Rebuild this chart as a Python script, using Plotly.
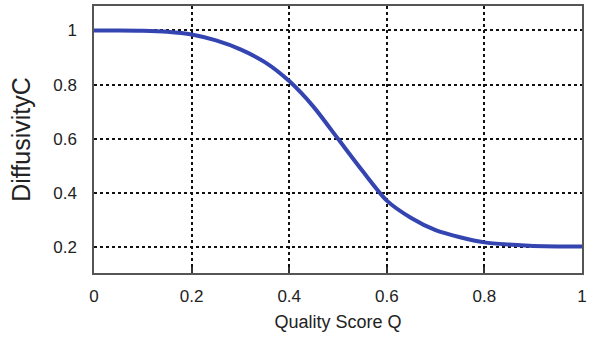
import plotly.graph_objects as go

quality_q = [0, 0.05, 0.1, 0.15, 0.2, 0.25, 0.3, 0.35, 0.4, 0.45, 0.5,
             0.55, 0.6, 0.65, 0.7, 0.75, 0.8, 0.85, 0.9, 0.95, 1.0]
diffusivity_c = [1.0, 1.0, 0.999, 0.995, 0.985, 0.963, 0.93, 0.883, 0.813, 0.718, 0.6,
                 0.482, 0.372, 0.308, 0.263, 0.237, 0.218, 0.21, 0.205, 0.203, 0.203]
x_ticks = [0, 0.2, 0.4, 0.6, 0.8, 1]
x_tick_labels = ["0", "0.2", "0.4", "0.6", "0.8", "1"]
y_ticks = [0.2, 0.4, 0.6, 0.8, 1]
y_tick_labels = ["0.2", "0.4", "0.6", "0.8", "1"]

font_family = "Liberation Sans, Arial, sans-serif"

fig = go.Figure()
fig.add_trace(go.Scatter(
    x=quality_q, y=diffusivity_c, mode="lines",
    line=dict(color="#3444b0", width=4, shape="spline", smoothing=0.7),
    showlegend=False,
))

fig.update_layout(
    width=591, height=341,
    margin=dict(l=94, r=7, t=4, b=68),
    paper_bgcolor="white", plot_bgcolor="white",
    font=dict(family=font_family, size=17, color="#222"),
)
fig.update_xaxes(
    range=[0, 1], tickvals=x_ticks, ticktext=x_tick_labels,
    showgrid=True, gridcolor="#111", griddash="3px,3px", gridwidth=1.5,
    showline=True, linecolor="#555", linewidth=1.5, mirror=True,
    ticks="inside", ticklen=6, tickcolor="#333", tickwidth=1.5,
    ticklabelstandoff=7, ticklabeloverflow="allow",
    zeroline=False,
    title=dict(text="Quality Score Q", font=dict(size=18), standoff=10),
)
fig.update_yaxes(
    range=[0.105, 1.09], tickvals=y_ticks, ticktext=y_tick_labels,
    showgrid=True, gridcolor="#111", griddash="3px,3px", gridwidth=1.5,
    showline=True, linecolor="#555", linewidth=1.5, mirror=True,
    ticks="", ticklabelstandoff=12, zeroline=False,
    title=dict(text="DiffusivityC", font=dict(size=25), standoff=15),
)

fig.write_html("out.html",
               config={"displayModeBar": False},
               post_script="document.body.style.margin='0';document.body.style.overflow='hidden';")
